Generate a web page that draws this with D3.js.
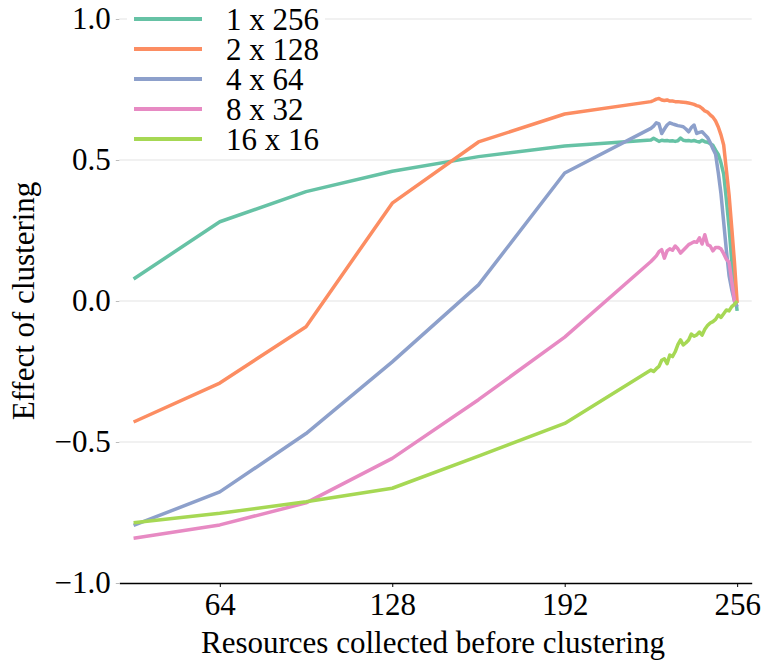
<!DOCTYPE html>
<html>
<head>
<meta charset="utf-8">
<script src="https://cdn.jsdelivr.net/npm/d3@7"></script>
<style>
  html, body { margin: 0; padding: 0; background: #fff; }
  svg { display: block; }
</style>
</head>
<body>
<svg id="chart" width="765" height="660"></svg>
<script>
// Resources collected (x) for every series
const resources = [32, 64, 96, 128, 160, 192,
  224, 225, 226, 227, 228, 229, 230, 231, 232, 233, 234, 235, 236, 237, 238, 239, 240,
  241, 242, 243, 244, 245, 246, 247, 248, 249, 250, 251, 252, 253, 254, 255, 256];

const seriesNames = ["1 x 256", "2 x 128", "4 x 64", "8 x 32", "16 x 16"];
const seriesColors = ["#66c2a5", "#fc8d62", "#8da0cb", "#e78ac3", "#a6d854"];

const effect1x256 = [0.078, 0.281, 0.388, 0.460, 0.512, 0.550,
  0.571, 0.577, 0.572, 0.566, 0.570, 0.568, 0.569, 0.567, 0.568, 0.566, 0.568, 0.578, 0.570, 0.568, 0.569, 0.567, 0.569,
  0.566, 0.564, 0.570, 0.565, 0.563, 0.558, 0.552, 0.535, 0.520, 0.490, 0.450, 0.360, 0.260, 0.140, 0.040, -0.035];

const effect2x128 = [-0.429, -0.291, -0.091, 0.347, 0.564, 0.663,
  0.707, 0.711, 0.716, 0.718, 0.713, 0.711, 0.713, 0.709, 0.709, 0.707, 0.707, 0.706, 0.705, 0.704, 0.702, 0.700, 0.697,
  0.693, 0.690, 0.683, 0.674, 0.670, 0.660, 0.652, 0.638, 0.617, 0.589, 0.553, 0.465, 0.376, 0.259, 0.138, -0.007];

const effect4x64 = [-0.796, -0.677, -0.470, -0.216, 0.057, 0.454,
  0.612, 0.620, 0.632, 0.628, 0.594, 0.610, 0.624, 0.632, 0.628, 0.625, 0.622, 0.620, 0.618, 0.610, 0.600, 0.615, 0.624,
  0.594, 0.598, 0.600, 0.590, 0.580, 0.562, 0.540, 0.520, 0.455, 0.380, 0.280, 0.180, 0.090, 0.040, 0.000, -0.020];

const effect8x32 = [-0.841, -0.794, -0.716, -0.558, -0.350, -0.128,
  0.140, 0.150, 0.160, 0.175, 0.182, 0.152, 0.178, 0.185, 0.180, 0.195, 0.185, 0.170, 0.180, 0.190, 0.200, 0.205, 0.210,
  0.208, 0.224, 0.202, 0.235, 0.200, 0.195, 0.178, 0.190, 0.190, 0.185, 0.168, 0.148, 0.138, 0.070, 0.000, -0.010];

const effect16x16 = [-0.786, -0.753, -0.712, -0.664, -0.550, -0.434,
  -0.245, -0.250, -0.240, -0.232, -0.210, -0.205, -0.222, -0.192, -0.197, -0.180, -0.155, -0.138, -0.156, -0.148, -0.138, -0.117, -0.125,
  -0.120, -0.110, -0.121, -0.100, -0.087, -0.078, -0.073, -0.065, -0.050, -0.058, -0.045, -0.032, -0.035, -0.020, -0.012, 0.000];

const xTicks = [64, 128, 192, 256];
const yTicks = [-1.0, -0.5, 0.0, 0.5, 1.0];
const xTitle = "Resources collected before clustering";
const yTitle = "Effect of clustering";

const allSeries = [effect1x256, effect2x128, effect4x64, effect8x32, effect16x16];

const FONT = "Liberation Serif, Times New Roman, Times, DejaVu Serif, serif";
const FS = 31;

const svg = d3.select("#chart")
  .attr("font-family", FONT);
const W = 765, H = 660;
svg.append("rect").attr("width", W).attr("height", H).attr("fill", "#fff");

const plot = { left: 119.3, right: 751.7, top: 19, bottom: 583 };

const x = d3.scaleLinear().domain([26.7, 261.4]).range([plot.left, plot.right]);
const y = d3.scaleLinear().domain([-1, 1]).range([plot.bottom, plot.top]);

// horizontal gridlines
svg.append("g")
  .selectAll("line")
  .data(yTicks.filter(v => v > -1))
  .join("line")
  .attr("x1", plot.left).attr("x2", plot.right)
  .attr("y1", d => y(d)).attr("y2", d => y(d))
  .attr("stroke", "#e3e3e3").attr("stroke-width", 1.2);

// y axis: light ticks, no spine
const yAxis = svg.append("g")
  .attr("transform", `translate(${plot.left},0)`)
  .call(d3.axisLeft(y).tickValues(yTicks).tickFormat(d3.format(".1f")).tickSize(3.5).tickPadding(5))
  .attr("font-family", FONT)
  .attr("font-size", FS);
yAxis.select(".domain").remove();
yAxis.selectAll(".tick line").attr("stroke", "#bbb").attr("stroke-width", 1);
yAxis.selectAll(".tick text").attr("fill", "#000");

// x axis with black spine
const xAxis = svg.append("g")
  .attr("transform", `translate(0,${plot.bottom})`)
  .call(d3.axisBottom(x).tickValues(xTicks).tickFormat(d3.format("d")).tickSize(4).tickSizeOuter(0).tickPadding(6))
  .attr("font-family", FONT)
  .attr("font-size", FS);
xAxis.select(".domain").attr("stroke", "#000").attr("stroke-width", 1.3);
xAxis.selectAll(".tick line").attr("stroke", "#000").attr("stroke-width", 1);
xAxis.selectAll(".tick text").attr("fill", "#000");

// series lines
const line = d3.line()
  .x((d, i) => x(resources[i]))
  .y(d => y(d));

svg.append("g")
  .selectAll("path")
  .data(allSeries)
  .join("path")
  .attr("d", d => line(d))
  .attr("fill", "none")
  .attr("stroke", (d, i) => seriesColors[i])
  .attr("stroke-width", 3.5)
  .attr("stroke-linejoin", "round")
  .attr("stroke-linecap", "butt");

// axis titles
svg.append("text")
  .attr("x", 433)
  .attr("y", 653)
  .attr("text-anchor", "middle")
  .attr("font-size", FS)
  .text(xTitle);

svg.append("text")
  .attr("transform", `translate(34,${(plot.top + plot.bottom) / 2}) rotate(-90)`)
  .attr("text-anchor", "middle")
  .attr("font-size", FS)
  .text(yTitle);

// legend
const legend = svg.append("g");
legend.append("rect")
  .attr("x", 127).attr("y", 3).attr("width", 198).attr("height", 152)
  .attr("fill", "#fff");
const items = legend.selectAll("g.item")
  .data(seriesNames)
  .join("g")
  .attr("class", "item")
  .attr("transform", (d, i) => `translate(0,${19 + i * 30})`);
items.append("line")
  .attr("x1", 134).attr("x2", 202).attr("y1", 0).attr("y2", 0)
  .attr("stroke", (d, i) => seriesColors[i])
  .attr("stroke-width", 4);
items.append("text")
  .attr("x", 226)
  .attr("y", 0)
  .attr("dy", "0.35em")
  .attr("font-size", FS)
  .text(d => d);
</script>
</body>
</html>
